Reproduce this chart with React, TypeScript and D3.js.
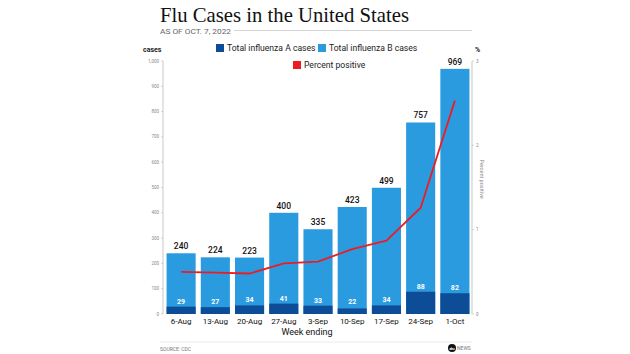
import React from "react";
import * as d3 from "d3";

// chart values
const weeks = ["6-Aug", "13-Aug", "20-Aug", "27-Aug", "3-Sep", "10-Sep", "17-Sep", "24-Sep", "1-Oct"];
const totalCases = [240, 224, 223, 400, 335, 423, 499, 757, 969];
const aCases = [29, 27, 34, 41, 33, 22, 34, 88, 82];
const percentPositive = [0.5, 0.49, 0.48, 0.6, 0.62, 0.77, 0.87, 1.26, 2.53];
const caseTicks = [0, 100, 200, 300, 400, 500, 600, 700, 800, 900, 1000];
const pctTicks = [0, 1, 2, 3];

const W = 630;
const H = 354;
const LIGHT = "#2b9be0";
const DARK = "#0d4c97";
const RED = "#ec1c24";
const SANS = "Roboto, 'Open Sans', Arial, sans-serif";

export default function App() {
    const margin = { top: 61, left: 164, right: 158 };

    const x = d3
        .scaleBand()
        .domain(weeks)
        .range([margin.left, W - margin.right])
        .paddingInner(0.15)
        .paddingOuter(0.075);

    const y = d3.scaleLinear().domain([0, 1000]).range([314, margin.top]);
    const yPct = d3.scaleLinear().domain([0, 3]).range([314, margin.top]);

    // straight segments, like the original
    const line = d3
        .line<number>()
        .x((_, i) => x(weeks[i])! + x.bandwidth() / 2)
        .y((d) => yPct(d));

    const fmt = d3.format(",");
    const axisLeftX = 163;
    const axisRightX = 472;

    return (
        <svg
            width={W}
            height={H}
            style={{ position: "absolute", left: 0, top: 0, background: "#fff" }}
            fontFamily={SANS}
        >
            {/* title block */}
            <text x={160} y={22} fontFamily="'Liberation Serif', 'DejaVu Serif', serif" fontSize={22}
                textLength={249} lengthAdjust="spacingAndGlyphs" fill="#111">
                Flu Cases in the United States
            </text>
            <text x={160} y={33.5} fontSize={7} fill="#666" textLength={71} lengthAdjust="spacingAndGlyphs">
                AS OF OCT. 7, 2022
            </text>
            <line x1={234} x2={472} y1={30.5} y2={30.5} stroke="#ccc" strokeWidth={0.8} />

            {/* axis titles */}
            <text x={143} y={52} fontSize={7} fontWeight={700} fill="#222">cases</text>
            <text x={475} y={52} fontSize={7} fontWeight={700} fill="#222">%</text>

            {/* legend */}
            <rect x={216} y={44} width={8} height={8} fill={DARK} />
            <text x={227} y={51} fontSize={8.6} fill="#222">Total influenza A cases</text>
            <rect x={318} y={44} width={8} height={8} fill={LIGHT} />
            <text x={329} y={51} fontSize={8.6} fill="#222">Total influenza B cases</text>
            <rect x={293} y={61} width={8} height={8} fill={RED} />
            <text x={304} y={68} fontSize={8.6} fill="#222">Percent positive</text>

            {/* left axis */}
            <line x1={axisLeftX} x2={axisLeftX} y1={y(1000)} y2={y(0)} stroke="#bbb" strokeWidth={0.8} />
            {caseTicks.map((t) => (
                <g key={t}>
                    <line x1={axisLeftX - 2} x2={axisLeftX} y1={y(t)} y2={y(t)} stroke="#bbb" strokeWidth={0.6} />
                    <text x={axisLeftX - 4} y={y(t)} dy="0.35em" textAnchor="end" fontSize={4.5} fill="#888">
                        {fmt(t)}
                    </text>
                </g>
            ))}

            {/* right axis */}
            <line x1={axisRightX} x2={axisRightX} y1={yPct(3)} y2={yPct(0)} stroke="#bbb" strokeWidth={0.8} />
            {pctTicks.map((t) => (
                <g key={t}>
                    <line x1={axisRightX} x2={axisRightX + 2} y1={yPct(t)} y2={yPct(t)} stroke="#bbb" strokeWidth={0.6} />
                    <text x={axisRightX + 4} y={yPct(t)} dy="0.35em" fontSize={4.5} fill="#888">{t}</text>
                </g>
            ))}
            <text transform={`translate(480, ${yPct(1.6)}) rotate(90)`} textAnchor="middle" fontSize={5.5} fill="#888">
                Percent positive
            </text>

            {/* bars */}
            {weeks.map((w, i) => {
                const bx = x(w)!;
                const bw = x.bandwidth();
                return (
                    <g key={w}>
                        <rect x={bx} y={y(totalCases[i])} width={bw} height={y(0) - y(totalCases[i])} fill={LIGHT} />
                        <rect x={bx} y={y(aCases[i])} width={bw} height={y(0) - y(aCases[i])} fill={DARK} />
                        <text x={bx + bw / 2} y={y(totalCases[i]) - 4} textAnchor="middle" fontSize={8.5}
                            fontWeight={500} fill="#111">
                            {totalCases[i]}
                        </text>
                        <text x={bx + bw / 2} y={Math.min(y(aCases[i]) - 3, 304)} textAnchor="middle" fontSize={7}
                            fontWeight={700} fill="#fff">
                            {aCases[i]}
                        </text>
                        <text x={bx + bw / 2} y={324} textAnchor="middle" fontSize={8} fill="#111">
                            {w}
                        </text>
                    </g>
                );
            })}

            {/* percent positive line */}
            <path d={line(percentPositive)!} fill="none" stroke={RED} strokeWidth={1.8} strokeLinejoin="round" />

            <text x={307} y={335} textAnchor="middle" fontSize={9} fill="#111">Week ending</text>

            {/* footer */}
            <line x1={160} x2={472} y1={342} y2={342} stroke="#ddd" strokeWidth={0.6} />
            <text x={160} y={351} fontSize={5} fill="#777">SOURCE: CDC</text>
            <circle cx={452} cy={348} r={4} fill="#111" />
            <text x={452} y={349.6} textAnchor="middle" fontSize={3.2} fontWeight={700} fill="#fff">abc</text>
            <text x={457} y={350} fontSize={5} fill="#777">NEWS</text>
        </svg>
    );
}
